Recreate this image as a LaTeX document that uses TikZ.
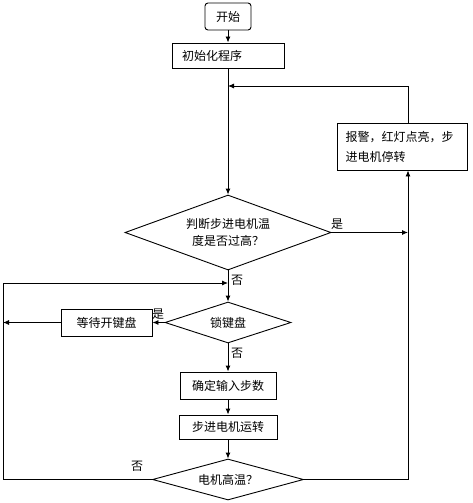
\documentclass[tikz,border=0pt]{standalone}
\usepackage{fontspec}
\usepackage{xcolor}
\usepackage{tikz}
\usetikzlibrary{arrows.meta,positioning,calc,shapes.geometric}
\newfontfamily\cjk{Noto Sans CJK SC}
\definecolor{ink}{RGB}{0,0,0}
\tikzset{
  flow/.style={line width=0.9pt,ink,-{Latex[length=6pt,width=5pt]}},
  wire/.style={line width=0.9pt,ink},
  txt/.style={font=\cjk\fontsize{12}{17}\selectfont,text=ink},
  stepbox/.style={txt,draw=ink,line width=0.9pt,rectangle,inner sep=0pt,align=center},
  startbox/.style={stepbox,rounded corners=3pt},
  decision/.style={txt,draw=ink,line width=0.9pt,diamond,inner sep=0pt,align=center},
  tag/.style={txt,inner sep=0pt}
}

\begin{document}
\begin{tikzpicture}[x=1pt,y=-1pt]
  \useasboundingbox (0,0) rectangle (472,503);
  % boxes and decisions
  \node[startbox,minimum width=46pt,minimum height=27pt] (start) at (228,16.5) {开始};
  \node[stepbox,minimum width=112pt,minimum height=25pt,text width=92pt,align=left] (init) at (228,55.5) {初始化程序};
  \node[stepbox,minimum width=130pt,minimum height=47pt,text width=113pt,align=left,
        font=\cjk\fontsize{12}{20}\selectfont] (alarm) at (402,146.5) {报警，红灯点亮，步\\进电机停转};
  \node[decision,aspect=2.8,minimum width=206pt,minimum height=75pt] (judge) at (228,232.5) {判断步进电机温\\度是否过高？};
  \node[decision,aspect=3.1,minimum width=126pt,minimum height=41pt] (lock) at (228,322.5) {锁键盘};
  \node[stepbox,minimum width=91pt,minimum height=27pt] (wait) at (106.5,322.5) {等待开键盘};
  \node[stepbox,minimum width=96pt,minimum height=27pt] (confirm) at (228,385.5) {确定输入步数};
  \node[stepbox,minimum width=98pt,minimum height=24pt] (run) at (228,427) {步进电机运转};
  \node[decision,aspect=3.7,minimum width=151pt,minimum height=41pt] (hot) at (228,479.5) {电机高温？};
  % turning points of the loops
  \coordinate (rtop) at (408,86);
  \coordinate (lmerge) at (3,283);
  % connectors
  \draw[flow] (start) -- (init);
  \draw[flow] (init) -- (judge);
  \draw[flow] (alarm.north -| rtop) -- (rtop) -- (rtop -| init.south);
  \draw[flow] (judge.east) -- (judge.east -| rtop);
  \draw[flow] (judge) -- (lock);
  \draw[flow] (lmerge) -- (lmerge -| judge.south);
  \draw[flow] (lock) -- (wait);
  \draw[flow] (wait) -- (wait -| lmerge);
  \draw[flow] (lock) -- (confirm);
  \draw[flow] (confirm) -- (run);
  \draw[flow] (run) -- (hot);
  \draw[wire] (hot.west) -| (lmerge);
  \draw[flow] (hot.east) -| (alarm.south -| rtop);
  % branch labels
  \node[tag] (yes1) at (337,224) {是};
  \node[tag] (no1) at (237,280) {否};
  \node[tag] (yes2) at (158,314) {是};
  \node[tag] (no2) at (237,353) {否};
  \node[tag] (no3) at (137,466) {否};
\end{tikzpicture}
\end{document}
